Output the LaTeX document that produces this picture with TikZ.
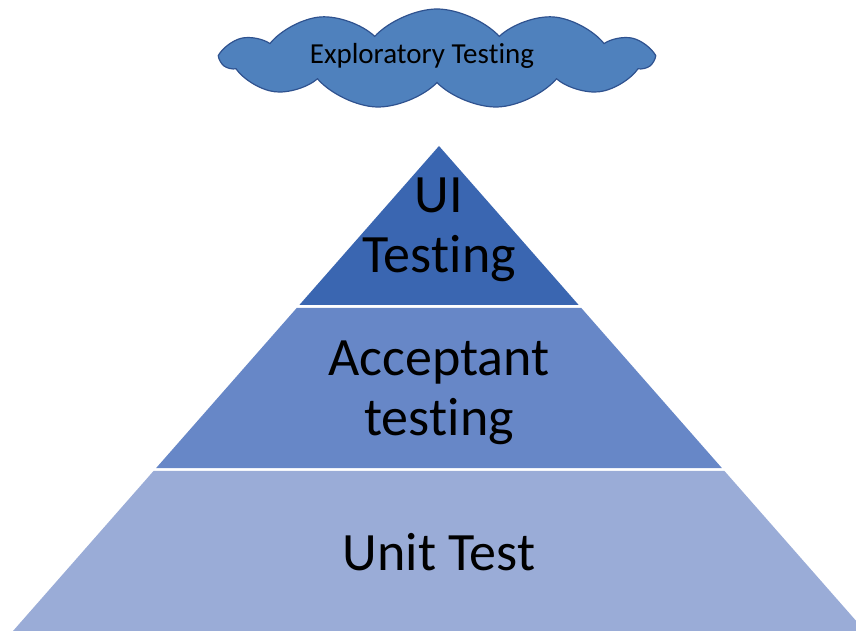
\documentclass[tikz,border=0pt]{standalone}
\usepackage{fontspec}
\setmainfont[Ligatures={NoCommon,NoContextual,NoRare}]{Carlito}
\usetikzlibrary{calc,shapes.symbols}
\definecolor{tierTop}{HTML}{3A66B1}
\definecolor{tierMid}{HTML}{6787C7}
\definecolor{tierLow}{HTML}{9AACD7}
\definecolor{cloudFill}{HTML}{4F81BD}
\definecolor{cloudLine}{HTML}{2F528F}

\begin{document}
\begin{tikzpicture}[x=1pt, y=1pt,
    tier/.style={font=\fontsize{54}{60}\selectfont, align=center, inner sep=0pt}]
  \useasboundingbox (0,0) rectangle (856,631);
  \coordinate (bl) at (13,0);
  \coordinate (br) at (865,0);
  \coordinate (apex) at (439,485);
  \begin{scope}
    \clip (0,0) rectangle (856,631);
    % bottom tier
    \fill[tierLow] (bl) -- (br) -- ($(br)!160/485!(apex)$) -- ($(bl)!160/485!(apex)$) -- cycle;
    % middle tier
    \fill[tierMid] ($(bl)!163/485!(apex)$) -- ($(br)!163/485!(apex)$)
      -- ($(br)!323/485!(apex)$) -- ($(bl)!323/485!(apex)$) -- cycle;
    % top tier
    \fill[tierTop] ($(bl)!326/485!(apex)$) -- ($(br)!326/485!(apex)$) -- (apex) -- cycle;
  \end{scope}
  \node[tier] (uiTest) at (439,401) {UI\\Tes\kern0pt ting};
  \node[tier] (acceptTest) at (439,238) {Acceptant\\tes\kern0pt ting};
  \node[tier] (unitTest) at (439,79) {Unit Test};
  % cloud on top
  \node[cloud, cloud puffs=11, cloud puff arc=95, aspect=4.3,
    minimum width=430pt, minimum height=100pt, inner sep=0pt,
    fill=cloudFill, draw=cloudLine, line width=1.2pt] (explore) at (437,572) {};
  \node[font=\fontsize{29}{32}\selectfont] (exploreText)
    at ([xshift=-15pt, yshift=3pt]explore.center) {Exploratory Tes\kern0pt ting};
\end{tikzpicture}
\end{document}
